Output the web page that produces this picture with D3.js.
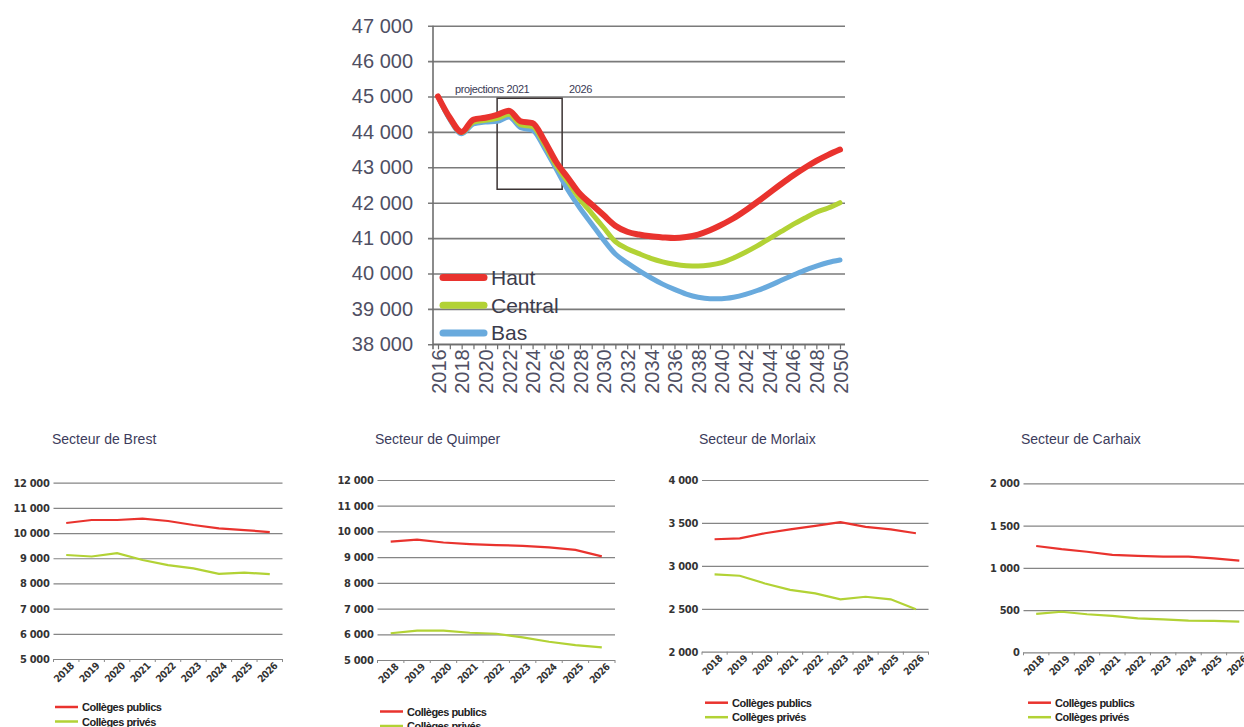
<!DOCTYPE html>
<html>
<head>
<meta charset="utf-8">
<script src="https://cdn.jsdelivr.net/npm/d3@7"></script>
<style>
  body { margin: 0; background: #fff; }
  svg { display: block; }
</style>
</head>
<body>
<svg id="chart" width="1244" height="727"></svg>
<script>
// ---- données : graphique principal ----
const years = [2016, 2017, 2018, 2019, 2020, 2021, 2022, 2023, 2024, 2025, 2026, 2027,
    2028, 2029, 2030, 2031, 2032, 2033, 2034, 2035, 2036, 2037, 2038, 2039, 2040,
    2041, 2042, 2043, 2044, 2045, 2046, 2047, 2048, 2049, 2050];
const yearTicks = [2016, 2018, 2020, 2022, 2024, 2026, 2028, 2030, 2032, 2034,
    2036, 2038, 2040, 2042, 2044, 2046, 2048, 2050];
const mainYTicks = [38000, 39000, 40000, 41000, 42000, 43000, 44000, 45000, 46000, 47000];

const haut = [45000, 44400, 44000, 44350, 44400, 44480, 44600, 44300, 44250, 43750, 43150,
    42700, 42250, 41950, 41650, 41350, 41180, 41100, 41050, 41020, 41000, 41030, 41100,
    41220, 41380, 41560, 41780, 42020, 42270, 42520, 42760, 42980, 43180, 43350, 43500];
const central = [45000, 44380, 43980, 44280, 44330, 44380, 44500, 44200, 44150, 43650, 43050,
    42580, 42100, 41700, 41300, 40900, 40700, 40560, 40430, 40330, 40260, 40220, 40210,
    40240, 40310, 40440, 40600, 40780, 40980, 41180, 41380, 41560, 41730, 41850, 42000];
const bas = [45000, 44350, 43950, 44230, 44280, 44300, 44420, 44120, 44050, 43550, 42950,
    42350, 41850, 41400, 40950, 40550, 40300, 40080, 39880, 39700, 39550, 39420, 39330,
    39290, 39290, 39330, 39410, 39520, 39650, 39800, 39950, 40090, 40210, 40310, 40380];
const scenarioNames = ["Haut", "Central", "Bas"];
const boxLabels = ["projections 2021", "2026"];

// ---- données : secteurs ----
const sectorYears = ["2018", "2019", "2020", "2021", "2022", "2023", "2024", "2025", "2026"];
const sectorNames = ["Secteur de Brest", "Secteur de Quimper", "Secteur de Morlaix", "Secteur de Carhaix"];
const seriesNames = ["Collèges publics", "Collèges privés"];

const brestPublics = [10400, 10520, 10520, 10570, 10480, 10320, 10190, 10120, 10040];
const brestPrives = [9130, 9070, 9200, 8930, 8730, 8600, 8380, 8430, 8370];
const quimperPublics = [9600, 9680, 9570, 9510, 9470, 9440, 9380, 9280, 9030];
const quimperPrives = [6040, 6140, 6140, 6060, 6020, 5880, 5710, 5580, 5490];
const morlaixPublics = [3310, 3320, 3380, 3425, 3465, 3510, 3455, 3425, 3380];
const morlaixPrives = [2900, 2885, 2795, 2720, 2680, 2610, 2640, 2610, 2495];
const carhaixPublics = [1258, 1220, 1190, 1152, 1140, 1132, 1132, 1112, 1084];
const carhaixPrives = [455, 480, 450, 430, 402, 390, 375, 372, 362];

const brestTicks = [5000, 6000, 7000, 8000, 9000, 10000, 11000, 12000];
const quimperTicks = [5000, 6000, 7000, 8000, 9000, 10000, 11000, 12000];
const morlaixTicks = [2000, 2500, 3000, 3500, 4000];
const carhaixTicks = [0, 500, 1000, 1500, 2000];

const RED = "#e9332e";
const GREEN = "#b2d235";
const BLUE = "#69aadd";
const FONT = "'Liberation Sans', Arial, sans-serif";
const COND = "'DejaVu Sans Condensed', 'Liberation Sans Narrow', sans-serif";

const svg = d3.select("#chart");
const fmt = d => d3.format(",")(d).replace(/,/g, " ");

function drawMain() {
    const left = 433, right = 845;
    const x = d3.scaleLinear().domain([2016, 2050]).range([438, 840]);
    const y = d3.scaleLinear().domain([38000, 47000]).range([344.3, 25.7]);
    const g = svg.append("g");

    const yAxis = g.append("g")
        .attr("transform", `translate(${left},0)`)
        .call(d3.axisLeft(y).tickValues(mainYTicks).tickSize(-(right - left)).tickPadding(20).tickFormat(fmt));
    yAxis.select(".domain").remove();
    yAxis.selectAll(".tick line")
        .attr("x1", -5)
        .attr("stroke", "#7a7a7a")
        .attr("stroke-width", 1.6);
    yAxis.selectAll(".tick text")
        .attr("font-family", FONT)
        .attr("font-size", 20)
        .attr("fill", "#4f4f63");

    g.append("line")
        .attr("x1", left).attr("x2", left)
        .attr("y1", y(47000)).attr("y2", y(38000) + 5)
        .attr("stroke", "#6e6e6e")
        .attr("stroke-width", 1.6);

    const xAxis = g.append("g")
        .attr("transform", `translate(0,${y(38000)})`)
        .call(d3.axisBottom(x).tickValues(years).tickSize(5)
            .tickFormat(d => yearTicks.includes(d) ? d3.format("d")(d) : ""));
    xAxis.select(".domain")
        .attr("d", `M${left},0H${right}`)
        .attr("stroke", "#6e6e6e")
        .attr("stroke-width", 1.6);
    xAxis.selectAll(".tick line").attr("stroke", "#6e6e6e").attr("stroke-width", 1.2);
    xAxis.selectAll(".tick text")
        .attr("transform", "rotate(-90)")
        .attr("text-anchor", "end")
        .attr("x", -5)
        .attr("y", 0)
        .attr("dy", "0.36em")
        .attr("font-family", FONT)
        .attr("font-size", 20)
        .attr("fill", "#4f4f63");

    // cadre "projections"
    g.append("rect")
        .attr("x", x(2021)).attr("y", y(44950))
        .attr("width", x(2026.5) - x(2021))
        .attr("height", y(42380) - y(44950))
        .attr("fill", "none")
        .attr("stroke", "#3b3333")
        .attr("stroke-width", 1.5);
    g.append("text")
        .attr("x", 455).attr("y", 93)
        .attr("font-family", FONT)
        .attr("font-size", 11)
        .attr("letter-spacing", -0.4)
        .attr("fill", "#3a3a55")
        .text(boxLabels[0]);
    g.append("text")
        .attr("x", 569).attr("y", 93)
        .attr("font-family", FONT)
        .attr("font-size", 11)
        .attr("letter-spacing", -0.4)
        .attr("fill", "#3a3a55")
        .text(boxLabels[1]);

    const line = d3.line()
        .x((d, i) => x(years[i]))
        .y(d => y(d))
        .curve(d3.curveMonotoneX);

    const series = [
        { values: bas, color: BLUE, w: 5 },
        { values: central, color: GREEN, w: 5 },
        { values: haut, color: RED, w: 6 }
    ];
    g.append("g").selectAll("path")
        .data(series)
        .enter().append("path")
        .attr("d", d => line(d.values))
        .attr("fill", "none")
        .attr("stroke", d => d.color)
        .attr("stroke-width", d => d.w)
        .attr("stroke-linejoin", "round")
        .attr("stroke-linecap", "round");

    // légende
    const legColors = [RED, GREEN, BLUE];
    const leg = g.append("g").selectAll("g")
        .data(scenarioNames)
        .enter().append("g")
        .attr("transform", (d, i) => `translate(443,${277.5 + i * 27.7})`);
    leg.append("line")
        .attr("x1", 0).attr("x2", 41)
        .attr("stroke", (d, i) => legColors[i])
        .attr("stroke-width", 7)
        .attr("stroke-linecap", "round");
    leg.append("text")
        .attr("x", 48).attr("y", 7.5)
        .attr("font-family", FONT)
        .attr("font-size", 21)
        .attr("fill", "#3c3c4c")
        .text(d => d);
}

function drawSector(cfg) {
    const g = svg.append("g");
    const x = d3.scaleBand().domain(sectorYears).range([cfg.left, cfg.right]);
    const y = d3.scaleLinear().domain(d3.extent(cfg.ticks)).range([cfg.bottom, cfg.top]);

    g.append("text")
        .attr("x", cfg.titleX).attr("y", 444)
        .attr("font-family", FONT)
        .attr("font-size", 14)
        .attr("fill", "#3c3c5c")
        .text(cfg.title);

    const yAxis = g.append("g")
        .attr("transform", `translate(${cfg.left},0)`)
        .call(d3.axisLeft(y).tickValues(cfg.ticks).tickSize(-(cfg.right - cfg.left)).tickPadding(4).tickFormat(fmt));
    yAxis.select(".domain").remove();
    yAxis.selectAll(".tick line")
        .attr("stroke", "#858585")
        .attr("stroke-width", 1.2);
    yAxis.selectAll(".tick text")
        .attr("font-family", COND)
        .attr("font-weight", "bold")
        .attr("font-size", 11)
        .attr("letter-spacing", -0.3)
        .attr("fill", "#333");

    const xAxis = g.append("g")
        .attr("transform", `translate(0,${cfg.bottom})`)
        .call(d3.axisBottom(x).tickSize(0));
    xAxis.select(".domain").remove();
    xAxis.selectAll(".tick text")
        .attr("transform", "translate(6,5) rotate(-45)")
        .attr("text-anchor", "end")
        .attr("x", 0).attr("y", 0)
        .attr("dy", "0.35em")
        .attr("font-family", COND)
        .attr("font-weight", "bold")
        .attr("font-size", 10)
        .attr("letter-spacing", -0.4)
        .attr("fill", "#333");
    // petites graduations aux limites des catégories
    xAxis.selectAll(".sep")
        .data(sectorYears.concat(["end"]))
        .enter().append("line")
        .attr("x1", (d, i) => cfg.left + i * x.step())
        .attr("x2", (d, i) => cfg.left + i * x.step())
        .attr("y1", 0).attr("y2", 3)
        .attr("stroke", "#888");

    const line = d3.line()
        .x((d, i) => x(sectorYears[i]) + x.bandwidth() / 2)
        .y(d => y(d));
    const data = [
        { values: cfg.prives, color: GREEN },
        { values: cfg.publics, color: RED }
    ];
    g.append("g").selectAll("path")
        .data(data)
        .enter().append("path")
        .attr("d", d => line(d.values))
        .attr("fill", "none")
        .attr("stroke", d => d.color)
        .attr("stroke-width", 2.2);

    const leg = g.append("g").selectAll("g")
        .data(seriesNames)
        .enter().append("g")
        .attr("transform", (d, i) => `translate(${cfg.legX},${cfg.legY + i * 14.5})`);
    leg.append("line")
        .attr("x1", 0).attr("x2", 23)
        .attr("stroke", (d, i) => [RED, GREEN][i])
        .attr("stroke-width", 2.5);
    leg.append("text")
        .attr("x", 27).attr("y", 4)
        .attr("font-family", FONT)
        .attr("font-weight", "bold")
        .attr("font-size", 11)
        .attr("letter-spacing", -0.5)
        .attr("fill", "#222")
        .text(d => d);
}

drawMain();

drawSector({ title: sectorNames[0], titleX: 52, left: 53.5, right: 282.5, top: 482.7, bottom: 659,
    ticks: brestTicks, publics: brestPublics, prives: brestPrives, legX: 55, legY: 707 });
drawSector({ title: sectorNames[1], titleX: 375, left: 377.5, right: 615, top: 480, bottom: 660,
    ticks: quimperTicks, publics: quimperPublics, prives: quimperPrives, legX: 380, legY: 711.5 });
drawSector({ title: sectorNames[2], titleX: 699, left: 702, right: 928.5, top: 480, bottom: 651.7,
    ticks: morlaixTicks, publics: morlaixPublics, prives: morlaixPrives, legX: 705, legY: 702.7 });
drawSector({ title: sectorNames[3], titleX: 1021, left: 1023.5, right: 1252, top: 483.3, bottom: 652.3,
    ticks: carhaixTicks, publics: carhaixPublics, prives: carhaixPrives, legX: 1028, legY: 702.7 });
</script>
</body>
</html>
